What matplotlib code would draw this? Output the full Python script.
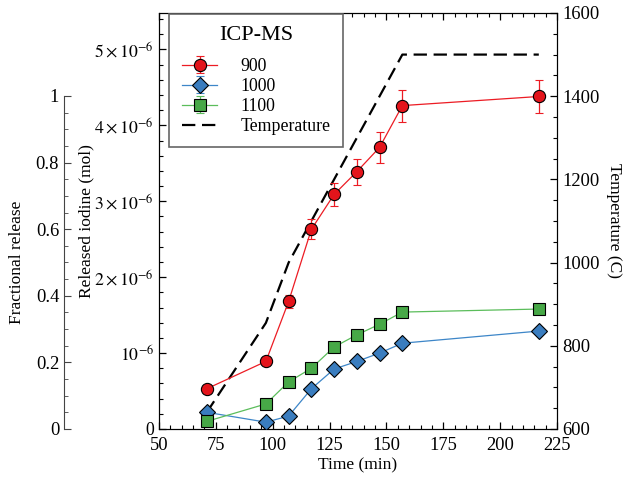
import matplotlib.pyplot as plt
from matplotlib.ticker import MultipleLocator, FuncFormatter

plt.rcParams['font.family'] = ['Liberation Serif', 'DejaVu Serif']
plt.rcParams['mathtext.fontset'] = 'stix'
plt.rcParams['font.size'] = 12.5

# dados (tempo em min, iodo em mol)
time = [71, 97, 107, 117, 127, 137, 147, 157, 217]
iodine_900 = [0.53e-6, 0.89e-6, 1.68e-6, 2.63e-6, 3.09e-6, 3.39e-6, 3.71e-6, 4.26e-6, 4.38e-6]
err_900 = [0.03e-6, 0.03e-6, 0.09e-6, 0.13e-6, 0.15e-6, 0.17e-6, 0.20e-6, 0.21e-6, 0.22e-6]
iodine_1000 = [0.22e-6, 0.09e-6, 0.17e-6, 0.53e-6, 0.79e-6, 0.89e-6, 1.00e-6, 1.13e-6, 1.29e-6]
err_1000 = [0.03e-6] * 9
iodine_1100 = [0.10e-6, 0.33e-6, 0.62e-6, 0.80e-6, 1.08e-6, 1.24e-6, 1.38e-6, 1.54e-6, 1.58e-6]
err_1100 = [0.04e-6] * 9

temp_time = [71, 97, 107, 157, 217]
temperature = [640, 855, 1000, 1500, 1500]

TICK_SIZE = 13.3

fig = plt.figure(figsize=(6.25, 4.79), dpi=100)
ax = fig.add_axes([0.2544, 0.1044, 0.6368, 0.8685])
ax2 = ax.twinx()

series = [
    (iodine_900, err_900, 'o', '#e3141b', '#ec1c24', 8.8, '900'),
    (iodine_1000, err_1000, 'D', '#3a7dbf', '#3d86c8', 8, '1000'),
    (iodine_1100, err_1100, 's', '#47a847', '#5bbd5b', 8.3, '1100'),
]
handles = []
for vals, errs, mk, fc, lc, ms, lab in series:
    h = ax.errorbar(time, vals, yerr=errs, fmt=mk, ls='-', color=lc, lw=0.9,
                    mfc=fc, mec='black', mew=0.8, ms=ms, capsize=3,
                    elinewidth=0.9, capthick=0.9, label=lab, zorder=3)
    handles.append(h)

t_line, = ax2.plot(temp_time, temperature, color='black', ls=(0, (6, 3)), lw=1.6,
                   label='Temperature', zorder=2)
handles.append(t_line)
ax.set_zorder(ax2.get_zorder() + 1)
ax.patch.set_visible(False)

ax.set_xlim(50, 225)
ax.set_ylim(0, 5.48e-6)
ax2.set_ylim(600, 1600)

ax.xaxis.set_major_locator(MultipleLocator(25))
ax.xaxis.set_minor_locator(MultipleLocator(5))
ax.yaxis.set_major_locator(MultipleLocator(1e-6))
ax.yaxis.set_minor_locator(MultipleLocator(0.2e-6))
ax2.yaxis.set_major_locator(MultipleLocator(200))
ax2.yaxis.set_minor_locator(MultipleLocator(50))


def sci_fmt(v, pos):
    n = int(round(v / 1e-6))
    if n == 0:
        return '0'
    if n == 1:
        return r'$10^{-6}$'
    return r'$%d\times10^{-6}$' % n


ax.yaxis.set_major_formatter(FuncFormatter(sci_fmt))

ax.tick_params(which='both', direction='in', top=True, right=False, labelsize=TICK_SIZE)
ax.tick_params(axis='x', pad=6)
ax.tick_params(axis='y', labelsize=12.8)
ax.tick_params(which='major', length=5, width=0.9)
ax.tick_params(which='minor', length=3, width=0.8)
ax2.tick_params(which='both', direction='in', labelsize=TICK_SIZE)
ax2.tick_params(which='major', length=5, width=0.9)
ax2.tick_params(which='minor', length=3, width=0.8)

ax.set_xlabel('Time (min)', labelpad=2)
ax.set_ylabel('Released iodine (mol)', labelpad=0)
ax2.set_ylabel('Temperature (C)', rotation=270, labelpad=16)

# eixo extra: fracao liberada
ax3 = fig.add_axes([0.1024, 0.1044, 0.0001, 0.6952])
for side in ['right', 'top', 'bottom']:
    ax3.spines[side].set_visible(False)
ax3.spines['left'].set_color('#444444')
ax3.set_xticks([])
ax3.set_ylim(0, 1)
ax3.yaxis.set_major_locator(MultipleLocator(0.2))
ax3.yaxis.set_minor_locator(MultipleLocator(0.05))
ax3.yaxis.set_major_formatter(FuncFormatter(lambda v, p: '%g' % round(v, 2)))
ax3.tick_params(which='both', direction='in', color='#444444', labelsize=TICK_SIZE)
ax3.tick_params(which='major', length=5)
ax3.tick_params(which='minor', length=3)
ax3.set_ylabel('Fractional release', labelpad=8)

leg = ax.legend(handles=handles, labels=['900', '1000', '1100', 'Temperature'],
                title='ICP-MS', title_fontsize=16, fontsize=12.8,
                loc='upper left', bbox_to_anchor=(0.026, 0.998), borderaxespad=0,
                fancybox=False, framealpha=1, edgecolor='#666666',
                borderpad=0.7, labelspacing=0.17, handlelength=2.0,
                handletextpad=1.3)
leg._legend_box.sep = 9
leg.get_frame().set_linewidth(1.2)

plt.savefig('out.png', dpi=100)
